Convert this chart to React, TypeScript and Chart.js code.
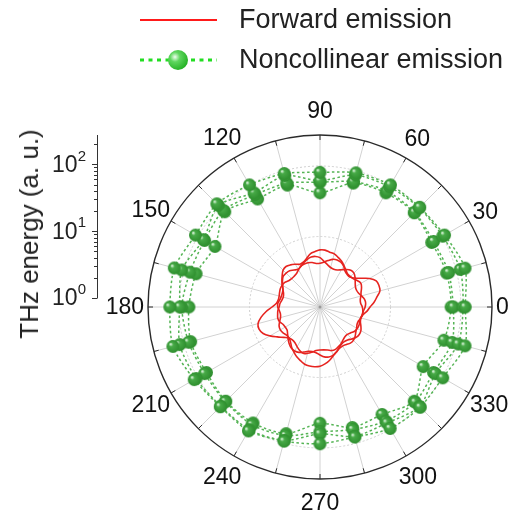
import React, { useEffect, useRef } from 'react';
import { Chart, registerables } from 'chart.js';

Chart.register(...registerables);

const FONT = '"Liberation Sans", Arial, sans-serif';

// Angular axis (degrees, counter-clockwise from the right)
const angleTicks = [0, 30, 60, 90, 120, 150, 180, 210, 240, 270, 300, 330];
const angleTickLabels = ['0', '30', '60', '90', '120', '150', '180', '210', '240', '270', '300', '330'];
const angleMinorStep = 15;

// Radial axis: log10 of THz energy (a. u.)
const radialDecades = [0, 1, 2];
const radialDecadeLabels = ['0', '1', '2'];
const radialMax = 2.44;

const seriesNames = ['Forward emission', 'Noncollinear emission'];

// Forward emission, log10(energy), sampled every 5 deg starting at 0 deg
const forwardStep = 5;
const forward1 = [0.71, 0.77, 0.82, 0.88, 0.89, 0.88, 0.81, 0.71, 0.64, 0.6, 0.6, 0.62, 0.67, 0.7, 0.71, 0.7, 0.67, 0.64, 0.62, 0.62, 0.64, 0.65, 0.65, 0.64, 0.61, 0.58, 0.57, 0.57, 0.58, 0.61, 0.62, 0.62, 0.61, 0.6, 0.6, 0.62, 0.68, 0.77, 0.85, 0.91, 0.92, 0.89, 0.82, 0.74, 0.67, 0.62, 0.61, 0.62, 0.65, 0.68, 0.7, 0.68, 0.65, 0.62, 0.61, 0.61, 0.62, 0.64, 0.64, 0.62, 0.6, 0.57, 0.55, 0.55, 0.57, 0.6, 0.61, 0.61, 0.6, 0.6, 0.62, 0.67];
const forward2 = [0.6, 0.58, 0.58, 0.6, 0.62, 0.65, 0.67, 0.65, 0.62, 0.61, 0.61, 0.64, 0.68, 0.72, 0.75, 0.78, 0.79, 0.81, 0.81, 0.79, 0.77, 0.72, 0.68, 0.67, 0.7, 0.73, 0.75, 0.74, 0.7, 0.66, 0.62, 0.58, 0.57, 0.57, 0.58, 0.6, 0.6, 0.58, 0.57, 0.58, 0.61, 0.64, 0.65, 0.64, 0.62, 0.62, 0.65, 0.7, 0.74, 0.78, 0.81, 0.84, 0.85, 0.85, 0.84, 0.81, 0.77, 0.72, 0.68, 0.65, 0.64, 0.65, 0.67, 0.67, 0.65, 0.62, 0.6, 0.58, 0.58, 0.6, 0.61, 0.61];
const forward3 = [0.64, 0.65, 0.64, 0.61, 0.58, 0.57, 0.58, 0.61, 0.65, 0.68, 0.68, 0.65, 0.61, 0.58, 0.57, 0.58, 0.61, 0.65, 0.7, 0.72, 0.72, 0.7, 0.67, 0.64, 0.62, 0.64, 0.67, 0.68, 0.68, 0.65, 0.61, 0.58, 0.55, 0.54, 0.55, 0.57, 0.58, 0.6, 0.61, 0.62, 0.61, 0.58, 0.57, 0.57, 0.6, 0.64, 0.68, 0.71, 0.72, 0.71, 0.68, 0.65, 0.64, 0.65, 0.68, 0.71, 0.72, 0.71, 0.68, 0.64, 0.61, 0.6, 0.61, 0.64, 0.67, 0.68, 0.67, 0.64, 0.61, 0.6, 0.61, 0.62];

// Noncollinear emission, log10(energy), every 15 deg starting at 0 deg
const noncolStep = 15;
const noncol1 = [2.06, 2.13, 2.04, 2.0, 2.0, 1.97, 1.91, 1.96, 2.0, 2.07, 2.04, 2.14, 2.13, 2.16, 2.06, 2.0, 2.03, 1.97, 1.94, 1.91, 1.99, 2.01, 2.01, 2.13];
const noncol2 = [2.03, 2.06, 2.01, 1.99, 1.97, 1.94, 1.79, 1.93, 1.87, 2.04, 1.91, 2.03, 1.99, 2.06, 2.03, 1.99, 2.01, 1.96, 1.8, 1.9, 1.9, 2.0, 1.89, 2.03];
const noncol3 = [1.89, 1.89, 1.86, 1.9, 1.9, 1.84, 1.77, 1.82, 1.84, 1.94, 1.89, 1.91, 1.96, 1.93, 1.89, 1.9, 1.93, 1.89, 1.77, 1.8, 1.87, 1.91, 1.86, 1.94];
const noncol4 = [1.86, 1.86, 1.83, 1.89, 1.87, 1.82, 1.62, 1.79, 1.77, 1.91, 1.72, 1.82, 1.86, 1.9, 1.86, 1.89, 1.9, 1.86, 1.65, 1.77, 1.76, 1.89, 1.69, 1.82];

// radar labels go clockwise, so index i sits at math angle (360 - 5 i) % 360
const sampleAngles = Array.from({ length: 360 / forwardStep }, (_, i) => (360 - i * forwardStep) % 360);

function makeSphere(r: number) {
  const c = document.createElement('canvas');
  const s = Math.ceil(r * 2 + 2);
  c.width = s;
  c.height = s;
  const g = c.getContext('2d')!;
  const m = s / 2;
  const grad = g.createRadialGradient(m - r * 0.4, m - r * 0.4, 0, m, m, r);
  grad.addColorStop(0, '#ffffff');
  grad.addColorStop(0.18, '#9ad59a');
  grad.addColorStop(0.32, '#47aa47');
  grad.addColorStop(1, '#2e8e2e');
  g.fillStyle = grad;
  g.beginPath();
  g.arc(m, m, r, 0, Math.PI * 2);
  g.fill();
  return c;
}

const decorPlugin = {
  id: 'polarDecor',
  afterDraw(chart: any) {
    const r = chart.scales.r;
    const ctx = chart.ctx as CanvasRenderingContext2D;
    const cx = r.xCenter;
    const cy = r.yCenter;
    const R = r.drawingArea;
    ctx.save();
    // outer frame circle
    ctx.strokeStyle = '#2a2a2a';
    ctx.lineWidth = 1.4;
    ctx.setLineDash([]);
    ctx.beginPath();
    ctx.arc(cx, cy, R, 0, Math.PI * 2);
    ctx.stroke();
    // inward ticks every 15 deg
    ctx.lineWidth = 1;
    sampleAngles.forEach((a, i) => {
      if (a % angleMinorStep !== 0) return;
      const p1 = r.getPointPosition(i, R);
      const p2 = r.getPointPosition(i, R - 5);
      ctx.beginPath();
      ctx.moveTo(p1.x, p1.y);
      ctx.lineTo(p2.x, p2.y);
      ctx.stroke();
    });
    // center dot
    ctx.fillStyle = '#999';
    ctx.beginPath();
    ctx.arc(cx, cy, 1.5, 0, Math.PI * 2);
    ctx.fill();
    // angle labels
    ctx.font = `23px ${FONT}`;
    ctx.fillStyle = '#111';
    ctx.textAlign = 'center';
    ctx.textBaseline = 'middle';
    angleTicks.forEach((a, k) => {
      const i = sampleAngles.indexOf(a);
      const text = angleTickLabels[k];
      const w = ctx.measureText(text).width;
      const th = (a * Math.PI) / 180;
      const ex = Math.abs(Math.cos(th)) * (w / 2 + 4);
      const ey = Math.abs(Math.sin(th)) * (8 + 16);
      const p = r.getPointPosition(i, R + Math.hypot(ex, ey));
      ctx.fillText(text, p.x, p.y + 1);
    });
    // radial scale bar on the left
    const barX = cx - 223;
    const yTop = cy - R;
    const yBot = cy - 9;
    const yOf = (v: number) => yBot - ((yBot - yTop) * r.getDistanceFromCenterForValue(v)) / R;
    ctx.strokeStyle = '#333';
    ctx.lineWidth = 1;
    ctx.beginPath();
    ctx.moveTo(barX + 0.5, yOf(0));
    ctx.lineTo(barX + 0.5, yOf(radialMax));
    ctx.stroke();
    radialDecades.forEach((d) => {
      ctx.beginPath();
      ctx.moveTo(barX + 0.5, Math.round(yOf(d)) + 0.5);
      ctx.lineTo(barX - 5, Math.round(yOf(d)) + 0.5);
      ctx.stroke();
      for (let m = 2; m <= 9; m++) {
        const v = d + Math.log10(m);
        if (v > radialMax) break;
        ctx.beginPath();
        ctx.moveTo(barX + 0.5, Math.round(yOf(v)) + 0.5);
        ctx.lineTo(barX - 3, Math.round(yOf(v)) + 0.5);
        ctx.stroke();
      }
    });
    ctx.fillStyle = '#222';
    radialDecades.forEach((d, k) => {
      const y = yOf(d);
      ctx.font = `15px ${FONT}`;
      const ws = ctx.measureText(radialDecadeLabels[k]).width;
      const xr = barX - 11 - ws;
      ctx.textAlign = 'left';
      ctx.textBaseline = 'middle';
      ctx.fillText(radialDecadeLabels[k], xr, y - 8);
      ctx.font = `23px ${FONT}`;
      ctx.textAlign = 'right';
      ctx.fillText('10', xr, y + 1);
    });
    ctx.restore();
  },
};

export default function App() {
  const ref = useRef<HTMLCanvasElement>(null);

  useEffect(() => {
    const sphere = makeSphere(6.5);
    const redColor = '#e62420';
    const forwardSets = [forward1, forward2, forward3].map((arr) => ({
      label: seriesNames[0],
      data: sampleAngles.map((a) => arr[a / forwardStep]),
      borderColor: redColor,
      backgroundColor: redColor,
      borderWidth: 1.6,
      pointRadius: 0,
      fill: false,
      tension: 0.35,
    }));
    const noncolSets = [noncol1, noncol2, noncol3, noncol4].map((arr) => ({
      label: seriesNames[1],
      data: sampleAngles.map((a) => (a % noncolStep === 0 ? arr[a / noncolStep] : null)),
      spanGaps: true,
      borderColor: '#55b455',
      backgroundColor: '#3fa63f',
      borderWidth: 1.5,
      borderDash: [2.5, 2.5],
      pointStyle: sphere,
      pointRadius: 6.5,
      fill: false,
      tension: 0.25,
    }));
    const chart = new Chart(ref.current!, {
      type: 'radar',
      data: {
        labels: sampleAngles.map((a) => String(a)),
        datasets: [...forwardSets, ...noncolSets] as any,
      },
      options: {
        animation: false,
        responsive: false,
        maintainAspectRatio: false,
        layout: { padding: { left: 148, right: 18, top: 135, bottom: 37 } },
        plugins: { legend: { display: false }, tooltip: { enabled: false } },
        scales: {
          r: {
            min: 0,
            max: radialMax,
            startAngle: 90,
            afterBuildTicks: (s: any) => {
              s.ticks = radialDecades.map((v) => ({ value: v }));
            },
            ticks: { display: false },
            pointLabels: { display: false },
            grid: { circular: true, color: '#cfcfcf', lineWidth: 1 },
            border: { dash: [2, 2] },
            angleLines: {
              color: (c: any) => (sampleAngles[c.index] % angleMinorStep === 0 ? '#d2d2d2' : 'rgba(0,0,0,0)'),
              lineWidth: (c: any) => (sampleAngles[c.index] % angleMinorStep === 0 ? 1 : 0),
            },
          },
        } as any,
      },
      plugins: [decorPlugin],
    });
    return () => chart.destroy();
  }, []);

  const textStyle: React.CSSProperties = { position: 'absolute', fontSize: 27, lineHeight: '30px', color: '#222', whiteSpace: 'nowrap' };

  return (
    <div style={{ position: 'fixed', left: 0, top: 0, width: 510, height: 516, background: '#fff', fontFamily: FONT }}>
      <canvas ref={ref} width={510} height={516} style={{ position: 'absolute', left: 0, top: 0, width: 510, height: 516 }} />
      <svg width={510} height={90} style={{ position: 'absolute', left: 0, top: 0 }}>
        <defs>
          <radialGradient id="lg" cx="0.35" cy="0.35" r="0.7">
            <stop offset="0" stopColor="#f0fff0" />
            <stop offset="0.35" stopColor="#5fd65f" />
            <stop offset="1" stopColor="#22b022" />
          </radialGradient>
        </defs>
        <line x1={140} x2={217} y1={20} y2={20} stroke="#ff1a1a" strokeWidth={2} />
        <line x1={140} x2={217} y1={60} y2={60} stroke="#22dd22" strokeWidth={3} strokeDasharray="4 4.5" />
        <circle cx={178} cy={60} r={10} fill="url(#lg)" />
      </svg>
      <div style={{ ...textStyle, left: 239, top: 4 }}>{seriesNames[0]}</div>
      <div style={{ ...textStyle, left: 239, top: 44 }}>{seriesNames[1]}</div>
      <div
        style={{
          ...textStyle,
          fontSize: 26,
          left: 29,
          top: 234,
          transform: 'translate(-50%, -50%) rotate(-90deg)',
        }}
      >
        THz energy (a. u.)
      </div>
    </div>
  );
}
